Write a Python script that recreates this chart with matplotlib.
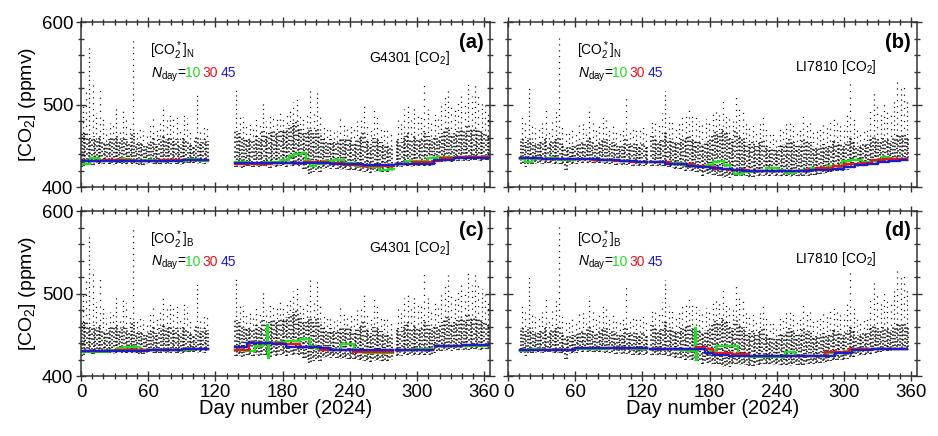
import numpy as np
import matplotlib.pyplot as plt
from matplotlib.ticker import MultipleLocator

plt.rcParams['font.family'] = ['Liberation Sans', 'DejaVu Sans']
plt.rcParams['mathtext.fontset'] = 'custom'
plt.rcParams['mathtext.rm'] = 'Liberation Sans'
plt.rcParams['mathtext.it'] = 'Liberation Sans:italic'
plt.rcParams['mathtext.bf'] = 'Liberation Sans:bold'

nan = np.nan

# ---- G4301 observations, 3-day bins (start day): low edge, top of dense band, spike peak
g_day = np.r_[np.arange(0, 112, 3), np.arange(137, 276, 3), np.arange(281, 363, 3)]
g_peak = [500, 520, 570, 530, 490, 520, 485, 470, 478, 480,
          497, 470, 493, 488, 475, 582, 470, 472, 468, 465,
          478, 488, 470, 480, 497, 485, 487, 482, 485, 470,
          487, 484, 468, 462, 513, 470, 474, 472,
          520, 490, 485, 478, 480, 475, 482, 478, 503, 480,
          488, 485, 482, 490, 485, 492, 495, 503, 510, 488,
          482, 490, 517, 490, 515, 490, 476, 470, 473, 470,
          468, 483, 475, 473, 478, 470, 480, 485, 500, 478,
          470, 493, 488, 475, 470, 472, 468,
          485, 478, 495, 500, 482, 497, 490, 485, 524, 495,
          480, 492, 488, 500, 510, 522, 500, 495, 505, 515,
          500, 527, 510, 525, 515, 505, 498, 490]
g_band = [465, 468, 460, 462, 458, 462, 455, 452, 458, 460,
          462, 455, 460, 458, 455, 465, 452, 455, 452, 450,
          455, 460, 452, 458, 462, 458, 460, 456, 458, 452,
          460, 458, 452, 450, 462, 455, 458, 456,
          468, 465, 460, 458, 460, 458, 462, 460, 468, 462,
          465, 468, 465, 470, 468, 472, 475, 478, 480, 470,
          465, 468, 472, 465, 470, 465, 458, 455, 458, 455,
          455, 460, 458, 458, 460, 455, 458, 462, 465, 458,
          452, 460, 458, 455, 452, 450, 450,
          458, 455, 462, 465, 458, 462, 460, 458, 468, 462,
          458, 462, 460, 465, 468, 472, 465, 465, 468, 472,
          468, 475, 470, 472, 470, 468, 465, 462]
g_low = [424, 428, 428, 427, 429, 428, 428, 429, 428, 427,
         428, 429, 427, 428, 429, 428, 428, 426, 427, 428,
         429, 428, 427, 428, 429, 428, 428, 429, 428, 427,
         428, 429, 428, 429, 428, 429, 428, 429,
         424, 424, 423, 425, 424, 424, 425, 424, 425, 424,
         423, 425, 424, 426, 425, 424, 426, 425, 427, 424,
         422, 420, 416, 418, 419, 418, 422, 423, 422, 423,
         422, 421, 422, 421, 420, 421, 420, 419, 418, 418,
         417, 418, 419, 418, 417, 418, 419,
         424, 424, 425, 425, 424, 425, 426, 425, 426, 425,
         426, 428, 429, 430, 430, 431, 430, 431, 431, 432,
         432, 432, 431, 433, 432, 432, 433, 432]

# ---- LI7810 observations, 3-day bins
l_day = np.r_[np.arange(11, 123, 3), np.arange(127, 356, 3)]
l_peak = [487, 480, 521, 478, 472, 476, 478, 497, 470, 485,
          493, 582, 475, 468, 465, 470, 468, 475, 478, 470,
          497, 480, 472, 478, 487, 485, 470, 476, 470, 468,
          472, 513, 470, 475, 472, 470, 473, 470,
          480, 478, 475, 490, 517, 485, 480, 475, 478, 485,
          490, 497, 488, 490, 480, 476, 482, 478, 490, 495,
          490, 505, 490, 485, 480, 509, 495, 493, 480, 475,
          478, 472, 480, 485, 470, 468, 465, 460, 470, 472,
          478, 480, 475, 470, 472, 490, 476, 478, 470, 468,
          472, 478, 475, 480, 485, 484, 478, 475, 490, 529,
          485, 470, 468, 472, 470, 495, 515, 500, 490, 501,
          495, 490, 505, 527, 520, 525, 505]
l_band = [458, 455, 460, 455, 452, 455, 456, 460, 452, 456,
          458, 462, 452, 450, 448, 450, 450, 452, 455, 452,
          460, 455, 452, 455, 458, 458, 452, 455, 452, 450,
          452, 460, 452, 455, 452, 450, 452, 450,
          462, 458, 455, 460, 468, 460, 458, 455, 455, 458,
          460, 462, 458, 458, 455, 452, 456, 458, 462, 468,
          465, 470, 465, 460, 458, 468, 462, 460, 455, 452,
          455, 450, 455, 458, 450, 448, 447, 445, 450, 452,
          455, 458, 455, 450, 452, 460, 455, 455, 450, 448,
          450, 452, 450, 452, 456, 455, 452, 450, 455, 462,
          455, 450, 450, 452, 452, 458, 462, 458, 455, 460,
          458, 456, 460, 465, 462, 465, 460]
l_low = [428, 424, 427, 428, 428, 429, 428, 428, 429, 428,
         428, 428, 427, 421, 427, 428, 428, 429, 429, 429,
         429, 429, 428, 429, 429, 428, 428, 428, 427, 428,
         427, 427, 427, 426, 426, 425, 425, 425,
         426, 426, 425, 425, 424, 424, 423, 422, 422, 421,
         420, 420, 419, 418, 417, 414, 416, 416, 415, 413,
         414, 411, 412, 411, 413, 414, 413, 414, 413, 411,
         412, 413, 413, 414, 413, 414, 413, 414, 413, 412,
         413, 412, 414, 413, 412, 413, 414, 414, 415, 414,
         416, 416, 417, 418, 418, 419, 419, 420, 421, 422,
         423, 424, 425, 426, 426, 427, 428, 428, 429, 429,
         430, 430, 431, 431, 431, 432, 432]

# ---- background baselines (step knots: day, value; nan = data gap)
a45_day = [0, 45, 90, 113, 137, 178, 222, 252, 279, 281, 315, 333, 364]
a45_val = [431.2, 432, 432.5, nan, 429.3, 429.1, 428.3, 426.3, nan, 427.5, 432.4, 435.6, 435.6]
a30_day = [0, 20, 45, 70, 95, 113, 137, 170, 200, 220, 235, 250, 279, 281, 295, 314, 320, 335, 364]
a30_val = [431, 433, 432, 433, 432.5, nan, 428.5, 429.5, 430.5, 429, 427, 425, nan, 428, 430.4, 432, 435, 436.2, 436.2]
a10_day = [0, 8, 16, 25, 35, 45, 55, 65, 75, 85, 95, 105, 113, 137, 150, 165, 178, 186, 190, 197, 201,
           204, 210, 215, 225, 235, 245, 257, 266, 275, 279, 281, 290, 300, 310, 318, 330, 345, 364]
a10_val = [427.5, 435, 433, 432, 434, 431, 433, 431, 433, 432, 434, 432, nan, 430, 428, 430, 432.4, 438,
           440.5, 441, 433, 426, 428, 432, 433, 429, 425, 424.3, 421, 422, nan, 428, 431, 432, 435.5,
           436, 437, 436.5, 436.5]

b45_day = [11, 30, 60, 80, 100, 115, 124, 127, 140, 150, 160, 170, 180, 190, 200, 210, 270, 280, 290,
           300, 310, 320, 330, 340, 350, 356]
b45_val = [435, 434.5, 433.5, 432.5, 431, 430, nan, 430, 428.5, 427.5, 426, 424.5, 423, 421.5, 420.5,
           420, 420.5, 421, 422.5, 424.5, 426.5, 428.5, 430.5, 432, 433, 433]
b30_day = [11, 30, 55, 75, 95, 110, 124, 127, 145, 165, 175, 185, 195, 215, 245, 265, 275, 290, 300,
           315, 325, 335, 345, 356]
b30_val = [435, 434.5, 433.5, 432.5, 431.5, 430, nan, 430, 428, 425, 424.5, 422, 421, 420, 419.5, 421,
           423, 425, 427.5, 429, 432.5, 434, 433.5, 433.5]
b10_day = [11, 15, 21, 35, 45, 60, 80, 100, 115, 124, 127, 140, 155, 165, 178, 183, 188, 193, 198, 202,
           210, 218, 230, 241, 247, 257, 262, 270, 285, 298, 305, 316, 325, 334, 340, 356]
b10_val = [434, 429.8, 434, 435, 433, 434, 433, 431.5, 430, nan, 430, 429, 427, 425, 427, 430, 431.5,
           427, 421, 416, 418, 420, 423.6, 421, 417.5, 420, 420.5, 423, 426, 431.5, 432.5, 430, 432, 436,
           434, 434]

c45_day = [0, 30, 60, 90, 113, 137, 148, 170, 183, 200, 213, 222, 278, 281, 314, 316, 340, 364]
c45_val = [430, 430.5, 431.5, 432.5, nan, 435.5, 439.5, 438.5, 435.5, 435, 433.5, 431.4, nan, 431.4,
           nan, 436.4, 437.5, 438.4]
c30_day = [0, 30, 60, 90, 113, 137, 150, 180, 195, 213, 243, 278, 281, 314, 316, 340, 364]
c30_val = [430.5, 431, 431.5, 432.5, nan, 431.2, 440.5, 438.6, 435.7, 431.4, 429.4, nan, 431.4, nan,
           436.4, 437.5, 438.4]
c10_day = [0, 25, 32, 40, 53, 80, 100, 113, 137, 145, 155, 162, 166, 166.7, 167.4, 175, 183, 195, 204,
           210, 220, 232, 244, 252, 270, 278, 281, 295, 314, 316, 364]
c10_val = [429, 431, 434, 435, 431, 432, 433, nan, 432, 430, 436, 440, 462, 422, 440, 441, 443, 445, 436,
           433, 431, 439, 431, 427.5, 428.5, nan, 432, 433, nan, 436.4, 438.4]

d45_day = [11, 40, 60, 124, 127, 176, 183, 197, 266, 292, 307, 325, 356]
d45_val = [431.4, 432, 433.5, nan, 432.7, 428, 425.3, 423.7, 424.5, 427.4, 431.8, 432.7, 432.7]
d30_day = [11, 40, 60, 124, 127, 168, 176, 183, 200, 215, 283, 304, 356]
d30_val = [431.4, 432, 433.5, nan, 432.7, 434.7, 433, 428, 426.5, 424, 429, 432.5, 432.7]
d10_day = [11, 20, 30, 60, 90, 110, 124, 127, 150, 160, 167, 167.7, 168.4, 180, 186, 205, 215, 247, 256,
           283, 300, 310, 325, 356]
d10_val = [430, 433, 431.5, 433, 434, 433, nan, 432.7, 431, 430, 458, 419, 433, 430, 436, 424.5, 423,
           429, 424, 428, 430, 433, 432.7, 432.7]

panels = ['(a)', '(b)', '(c)', '(d)']
instruments = ['G4301 [CO$_2$]', 'LI7810 [CO$_2$]', 'G4301 [CO$_2$]', 'LI7810 [CO$_2$]']
bg_names = [r'[CO$_2^*$]$_\mathrm{N}$', r'[CO$_2^*$]$_\mathrm{N}$',
            r'[CO$_2^*$]$_\mathrm{B}$', r'[CO$_2^*$]$_\mathrm{B}$']
n_days = ['10', '30', '45']
n_colors = ['#22dd22', '#e8141c', '#1c1cc8']

obs = [(g_day, g_low, g_band, g_peak), (l_day, l_low, l_band, l_peak)] * 2
base = [[(a10_day, a10_val), (a30_day, a30_val), (a45_day, a45_val)],
        [(b10_day, b10_val), (b30_day, b30_val), (b45_day, b45_val)],
        [(c10_day, c10_val), (c30_day, c30_val), (c45_day, c45_val)],
        [(d10_day, d10_val), (d30_day, d30_val), (d45_day, d45_val)]]
inst_y = [0.78, 0.727, 0.774, 0.71]

# dot patterns cycled over the columns so the stipple does not line up in rows
dense_styles = [(0.0, (1.0, 1.3)), (0.7, (1.0, 1.8)), (1.5, (1.0, 1.1)),
                (0.3, (1.0, 2.2)), (1.1, (1.0, 1.5))]
sparse_styles = [(0.0, (0.9, 3.2)), (1.6, (0.9, 4.4)), (0.8, (0.9, 2.7)), (2.4, (0.9, 3.8))]

fig = plt.figure(figsize=(9.38, 4.36), dpi=100)
boxes = [(0.0864, 0.571), (0.5416, 0.571), (0.0864, 0.1376), (0.5416, 0.1376)]

for i in range(4):
    ax = fig.add_axes([boxes[i][0], boxes[i][1], 0.436, 0.378])
    day, low, band, peak = obs[i]
    x = np.asarray(day, dtype=float)
    n = len(x)
    ls1 = [dense_styles[k % 5] for k in range(n)]
    ls2 = [dense_styles[(k + 2) % 5] for k in range(n)]
    ls3 = [sparse_styles[k % 4] for k in range(n)]
    ax.vlines(x + 0.8, low, band, colors='black', linewidth=1.1, linestyles=ls1)
    ax.vlines(x + 2.2, low, band, colors='black', linewidth=1.1, linestyles=ls2)
    ax.vlines(x + 1.5, band, peak, colors='black', linewidth=0.9, linestyles=ls3)
    for (d, v), c in zip(base[i], n_colors):
        ax.step(d, v, where='post', color=c, linewidth=1.7)

    ax.set_xlim(0, 365)
    ax.set_ylim(400, 600)
    ax.xaxis.set_major_locator(MultipleLocator(60))
    ax.xaxis.set_minor_locator(MultipleLocator(10))
    ax.yaxis.set_major_locator(MultipleLocator(100))
    ax.yaxis.set_minor_locator(MultipleLocator(20))
    ax.tick_params(which='both', direction='inout', top=True, right=True,
                   width=1.0, color='#333333', labelsize=13.5, pad=2)
    ax.tick_params(which='major', length=7)
    ax.tick_params(which='minor', length=4)
    for s in ax.spines.values():
        s.set_linewidth(1.1)
        s.set_color('#333333')

    if i in (0, 2):
        ax.set_ylabel('[CO$_2$] (ppmv)', fontsize=14, labelpad=3)
    else:
        ax.tick_params(labelleft=False)
    if i in (0, 1):
        ax.tick_params(labelbottom=False)
    else:
        ax.set_xlabel('Day number (2024)', fontsize=14.5, labelpad=-1)

    ax.text(0.985, 0.88, panels[i], transform=ax.transAxes, ha='right', va='center',
            fontsize=14.5, fontweight='bold')
    ax.text(0.902, inst_y[i], instruments[i], transform=ax.transAxes, ha='right',
            va='center', fontsize=10)
    ax.text(0.169, 0.80, bg_names[i], transform=ax.transAxes, ha='left', va='baseline',
            fontsize=10)
    ax.text(0.17, 0.667, r'$N_\mathrm{day}$=', transform=ax.transAxes, ha='left',
            va='baseline', fontsize=10)
    for xt, t, c in zip([0.254, 0.2975, 0.341], n_days, n_colors):
        ax.text(xt, 0.667, t, transform=ax.transAxes, ha='left', va='baseline',
                fontsize=10, color=c)

fig.savefig('out.png', dpi=100)
